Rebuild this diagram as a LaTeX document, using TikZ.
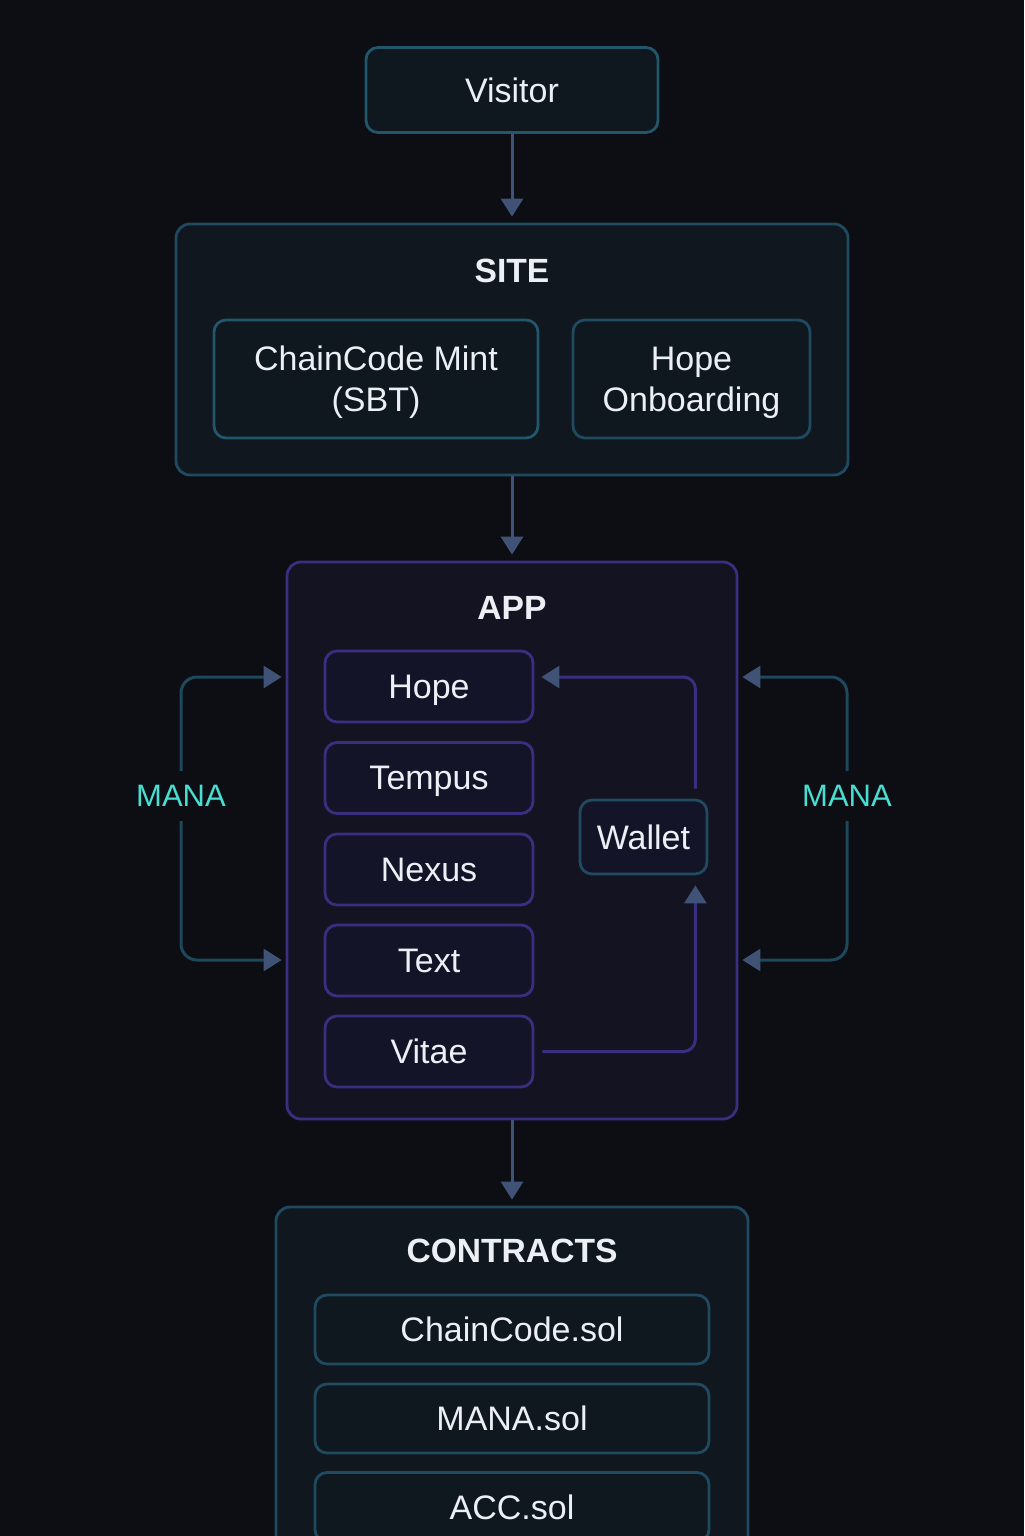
\documentclass[tikz,border=0pt]{standalone}
\usepackage{fontspec}
\setmainfont{Liberation Sans}
\usetikzlibrary{arrows.meta, positioning}

\definecolor{bgdark}{RGB}{12,14,19}
\definecolor{txt}{RGB}{236,240,245}
\definecolor{tealline}{RGB}{34,86,106}
\definecolor{siteline}{RGB}{32,74,96}
\definecolor{purpline}{RGB}{58,46,128}
\definecolor{arrowcol}{RGB}{64,82,118}
\definecolor{manaline}{RGB}{30,72,92}
\definecolor{manatxt}{RGB}{72,222,210}
\definecolor{boxfill}{RGB}{15,24,30}
\definecolor{sitefill}{RGB}{16,23,30}
\definecolor{appfill}{RGB}{19,19,33}
\definecolor{modfill}{RGB}{20,20,40}

\begin{document}
\begin{tikzpicture}[x=0.5pt, y=-0.5pt, font=\fontsize{17}{20.5}\selectfont,
    box/.style={draw=tealline, fill=boxfill, line width=1.4pt, rounded corners=6pt, text=txt, align=center, text depth=0pt},
    group/.style={draw=siteline, fill=sitefill, line width=1.4pt, rounded corners=7pt},
    appgroup/.style={draw=purpline, fill=appfill, line width=1.4pt, rounded corners=7pt},
    module/.style={draw=purpline, fill=modfill, line width=1.4pt, rounded corners=6pt, text=txt, text depth=0pt,
        minimum width=104pt, minimum height=35.5pt},
    solbox/.style={box, draw=siteline, minimum width=197pt, minimum height=34.5pt},
    title/.style={text=txt, font=\fontsize{16.8}{20}\selectfont\bfseries},
    manalabel/.style={text=manatxt, font=\fontsize{15.5}{18}\selectfont, inner xsep=2pt, inner ysep=7pt},
    flow/.style={draw=arrowcol, line width=1.5pt, -{Triangle[width=11pt,length=9pt]}, shorten >=3pt},
    inflow/.style={draw=purpline, line width=1.5pt, rounded corners=6pt,
        -{Triangle[width=11pt,length=9pt,color=arrowcol]}},
    mana/.style={draw=manaline, line width=1.5pt, rounded corners=8pt, shorten >=2pt,
        -{Triangle[width=11pt,length=9pt,color=arrowcol]}}]

    \useasboundingbox (0,0) rectangle (1024,1536);
    \fill[bgdark] (0,0) rectangle (1024,1536);
    \clip (0,0) rectangle (1024,1536);

    \node[box, minimum width=146pt, minimum height=42.5pt] (visitor) at (512,90) {Visitor};

    \node[group, minimum width=336pt, minimum height=125.5pt] (site) at (512,349.5) {};
    \node[title] (sitetitle) at (512,271) {SITE};
    \node[box, minimum width=162pt, minimum height=59pt] (mint) at (376,379) {ChainCode Mint\\(SBT)};
    \node[box, draw=siteline, minimum width=118.5pt, minimum height=59pt] (onboard) at (691.5,379) {Hope\\Onboarding};

    \node[appgroup, minimum width=225pt, minimum height=278.5pt] (app) at (512,840.5) {};
    \node[title] (apptitle) at (512,608) {APP};
    \node[module] (hope) at (429,686.5) {Hope};
    \node[module] (tempus) at (429,778) {Tempus};
    \node[module] (nexus) at (429,869.5) {Nexus};
    \node[module] (text) at (429,960.5) {Text};
    \node[module] (vitae) at (429,1051.5) {Vitae};
    \node[box, draw=siteline, fill=modfill, minimum width=63.5pt, minimum height=37pt] (wallet) at (643.5,837) {Wallet};

    \node[group, minimum width=236pt, minimum height=206.5pt] (contracts) at (512,1413.5) {};
    \node[title] (contitle) at (512,1251) {CONTRACTS};
    \node[solbox] (chaincode) at (512,1329.5) {ChainCode.sol};
    \node[solbox] (manasol) at (512,1418.5) {MANA.sol};
    \node[solbox] (accsol) at (512,1507) {ACC.sol};

    \node[manalabel] (manaL) at (181,796) {MANA};
    \node[manalabel] (manaR) at (847,796) {MANA};
    \coordinate (mtop) at (0,677);
    \coordinate (mbot) at (0,960);

    \draw[flow] (visitor) -- (site);
    \draw[flow] (site) -- (app);
    \draw[flow] (app) -- (contracts);

    \draw[inflow, shorten <=5pt, shorten >=3.5pt] ([xshift=-6.5pt]wallet.north east) |- (hope.east |- mtop);
    \draw[inflow, shorten <=4pt, shorten >=5pt] (vitae.east) -| ([xshift=-6.5pt]wallet.south east);

    \draw[mana] (manaL) |- (app.west |- mtop);
    \draw[mana] (manaL) |- (app.west |- mbot);
    \draw[mana] (manaR) |- (app.east |- mtop);
    \draw[mana] (manaR) |- (app.east |- mbot);
\end{tikzpicture}
\end{document}
